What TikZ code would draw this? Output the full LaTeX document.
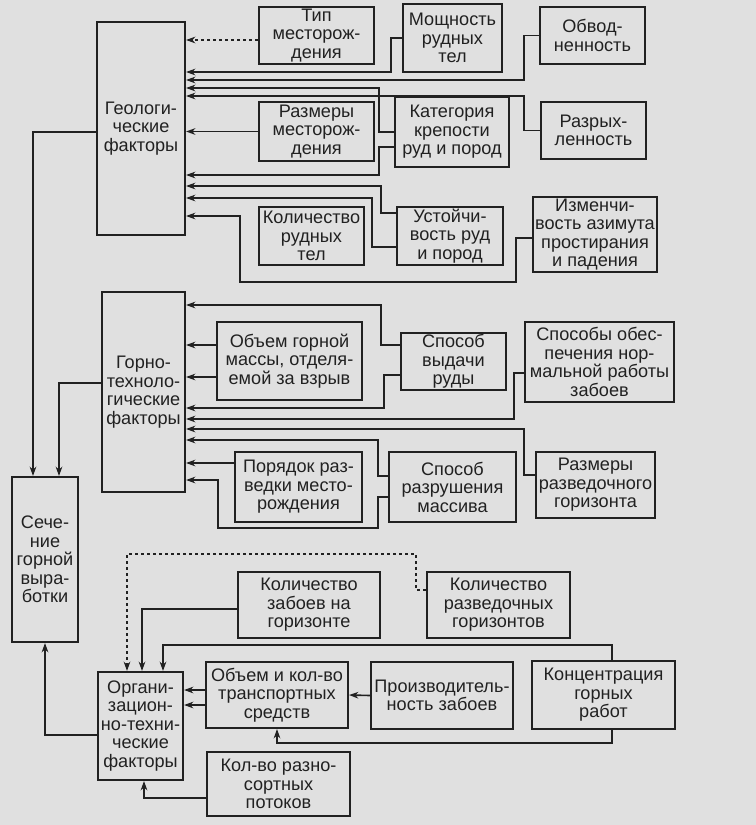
\documentclass[tikz,border=0pt]{standalone}
\usepackage{fontspec}
\setmainfont{Liberation Sans}
\usepackage{tikz}
\usetikzlibrary{arrows.meta}

\definecolor{paper}{gray}{0.88}
\definecolor{ink}{gray}{0.13}

\tikzset{
  box/.style={draw=ink, line width=1.6pt, align=center, inner sep=0.5pt, text=ink,
    font=\fontsize{13.6}{13.9}\selectfont},
  wh/.style 2 args={minimum width=#1*0.75pt, minimum height=#2*0.75pt},
  wire/.style={draw=ink, line width=1.2pt},
  dotwire/.style={wire, dash pattern=on 2.5pt off 2pt},
}

\begin{document}
\begin{tikzpicture}[x=0.75pt, y=-0.75pt, >={Stealth[length=7pt,width=5pt]}]
    \fill[paper] (0,0) rectangle (756,825);

    % geological factors
    \node[box, wh={88}{213}] at (141, 128.5) (geo) {Геологи-\\ческие\\факторы};
    \node[box, wh={115}{57}] at (316.5, 35.5) (tip) {Тип\\месторож-\\дения};
    \node[box, wh={99}{68}] at (452.5, 38) (moshch) {Мощность\\рудных\\тел};
    \node[box, wh={105}{57}] at (592.5, 35.5) (obvod) {Обвод-\\ненность};
    \node[box, wh={115}{59}] at (316.5, 131.5) (razmery) {Размеры\\месторож-\\дения};
    \node[box, wh={114}{70}] at (452, 132) (kateg) {Категория\\крепости\\руд и пород};
    \node[box, wh={105}{57}] at (593.5, 130.5) (razryh) {Разрых-\\ленность};
    \node[box, wh={105}{58}] at (311.5, 236) (kolrud) {Количество\\рудных\\тел};
    \node[box, wh={106}{58}] at (450, 236) (ustoich) {Устойчи-\\вость руд\\и пород};
    \node[box, wh={124}{75}] at (595, 234.5) (izmench) {Изменчи-\\вость азимута\\простирания\\и падения};

    % mining factors
    \node[box, wh={83}{200}] at (143.5, 392) (gorno) {Горно-\\техноло-\\гические\\факторы};
    \node[box, wh={145}{78}] at (289.5, 361) (obmass) {Объем горной\\массы, отделя-\\емой за взрыв};
    \node[box, wh={105}{57}] at (453.5, 361.5) (vydacha) {Способ\\выдачи\\руды};
    \node[box, wh={149}{80}] at (599.5, 362) (obesp) {Способы обес-\\печения нор-\\мальной работы\\забоев};
    \node[box, wh={127}{70}] at (298.5, 487) (poryad) {Порядок раз-\\ведки место-\\рождения};
    \node[box, wh={127}{70}] at (452.5, 487) (razrush) {Способ\\разрушения\\массива};
    \node[box, wh={119}{66}] at (595.5, 485) (razmgor) {Размеры\\разведочного\\горизонта};

    % section
    \node[box, wh={66}{165}] at (45, 559.5) (sech) {Сече-\\ние\\горной\\выра-\\ботки};

    % organisational factors
    \node[box, wh={85}{108}] at (140.5, 726) (org) {Органи-\\зацион-\\но-техни-\\ческие\\факторы};
    \node[box, wh={142}{66}] at (309, 605) (kolzab) {Количество\\забоев на\\горизонте};
    \node[box, wh={143}{66}] at (498.5, 605) (kolrazv) {Количество\\разведочных\\горизонтов};
    \node[box, wh={142}{66}] at (277, 695) (transp) {Объем и кол-во\\транспортных\\средств};
    \node[box, wh={142}{67}] at (442, 695.5) (proizv) {Производитель-\\ность забоев};
    \node[box, wh={143}{68}] at (603.5, 695) (konc) {Концентрация\\горных\\работ};
    \node[box, wh={143}{64}] at (278.5, 784) (potok) {Кол-во разно-\\сортных\\потоков};

    % into geo
    \draw[dotwire, ->] (tip.west |- 0,40) -- (geo.east |- 0,40);
    \draw[wire, ->] (moshch.west) -- ++(-11,0) |- (geo.east |- 0,72);
    \draw[wire, ->] (obvod.west) -- ++(-15,0) |- (geo.east |- 0,80);
    \draw[wire, ->] (kateg.west) -- ++(-15,0) |- (geo.east |- 0,88);
    \draw[wire, ->] (razryh.west) -- ++(-16,0) |- (geo.east |- 0,96);
    \draw[wire, ->] (razmery.west) -- (geo.east |- razmery.west);
    \draw[wire, ->] (kateg.west |- 0,147) -- ++(-15,0) |- (geo.east |- 0,175);
    \draw[wire, ->] (ustoich.west |- 0,213) -- ++(-15,0) |- (geo.east |- 0,186);
    \draw[wire, ->] (ustoich.west |- 0,247) -- ++(-24,0) |- (geo.east |- 0,198);
    \draw[wire, ->] (izmench.west |- 0,238) -- ++(-16,0) |- (240,282) |- (geo.east |- 0,216);

    % into gorno
    \draw[wire, ->] (vydacha.west |- 0,345) -- ++(-19,0) |- (gorno.east |- 0,305);
    \draw[wire, ->] (obmass.west |- 0,345) -- (gorno.east |- 0,345);
    \draw[wire, ->] (obmass.west |- 0,377) -- (gorno.east |- 0,377);
    \draw[wire, ->] (vydacha.west |- 0,375) -- ++(-16,0) |- (gorno.east |- 0,408);
    \draw[wire, ->] (obesp.west |- 0,373) -- ++(-10,0) |- (gorno.east |- 0,419);
    \draw[wire, ->] (razmgor.west |- 0,475) -- ++(-11,0) |- (gorno.east |- 0,429);
    \draw[wire, ->] (razrush.west |- 0,476) -- ++(-10,0) |- (gorno.east |- 0,440);
    \draw[wire, ->] (poryad.west |- 0,463) -- (gorno.east |- 0,463);
    \draw[wire, ->] (razrush.west |- 0,497) -- ++(-10,0) |- (218,528) |- (gorno.east |- 0,480);

    % into sech
    \draw[wire, ->] (geo.west |- 0,132) -| (33,0 |- sech.north);
    \draw[wire, ->] (gorno.west |- 0,383) -| (59,0 |- sech.north);
    \draw[wire, ->] (org.west |- 0,735) -| (sech.south);

    % into org
    \draw[dotwire, ->] (kolrazv.west |- 0,590) -- ++(-10,0) |- (127,554) -- (127,0 |- org.north);
    \draw[wire, ->] (kolzab.west |- 0,609) -| (142,0 |- org.north);
    \draw[wire, ->] (612,0 |- konc.north) |- (163,645) -- (163,0 |- org.north);
    \draw[wire, ->] (612,0 |- konc.south) |- (277,743) -- (transp.south);
    \draw[wire, ->] (proizv.west) -- (transp.east);
    \draw[wire, ->] (transp.west |- 0,690) -- (org.east |- 0,690);
    \draw[wire, ->] (transp.west |- 0,705) -- (org.east |- 0,705);
    \draw[wire, ->] (potok.west |- 0,798) -| (144,0 |- org.south);
\end{tikzpicture}
\end{document}
